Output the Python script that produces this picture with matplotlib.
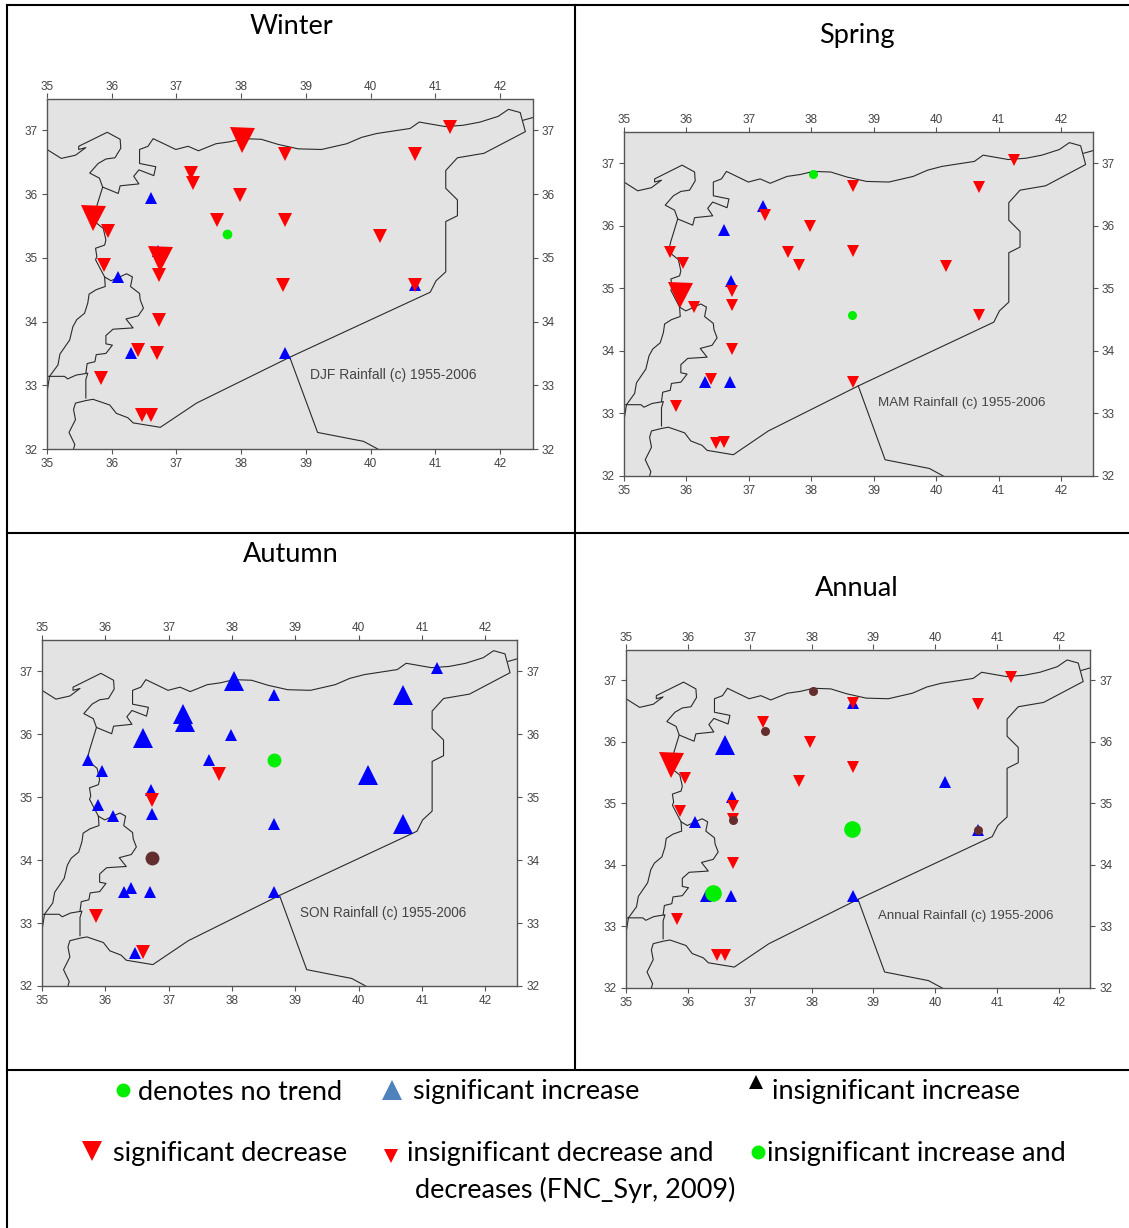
import matplotlib
matplotlib.use('Agg')
import matplotlib.pyplot as plt
from matplotlib.lines import Line2D

W, H = 1129, 1228

# map outlines (lon, lat)
coast = [(35.00, 36.70), (35.22, 36.56), (35.44, 36.61), (35.60, 36.73), (35.49, 36.70), (35.49, 36.75),
         (35.93, 36.97), (36.13, 36.86), (36.14, 36.72), (36.05, 36.57), (35.91, 36.55), (35.79, 36.48),
         (35.66, 36.33), (35.81, 36.25), (35.86, 36.11), (35.75, 35.75), (35.71, 35.59), (35.87, 35.46),
         (35.91, 35.28), (35.89, 35.20), (35.75, 35.15), (35.77, 35.02), (35.75, 34.97), (35.89, 34.70),
         (35.90, 34.55), (35.76, 34.50), (35.65, 34.43), (35.63, 34.29), (35.58, 34.13), (35.46, 34.03),
         (35.40, 33.92), (35.35, 33.71), (35.20, 33.49), (35.17, 33.32), (35.04, 33.14), (35.00, 32.89)]
syria_border = [(35.86, 36.11), (36.10, 36.01), (36.13, 36.13), (36.42, 36.16), (36.34, 36.28), (36.42, 36.38),
                (36.65, 36.29), (36.68, 36.43), (36.43, 36.48), (36.43, 36.70), (36.56, 36.75), (36.64, 36.87),
                (36.99, 36.70), (37.18, 36.75), (37.34, 36.68), (37.61, 36.79), (37.82, 36.82), (38.03, 36.87),
                (38.31, 36.86), (38.57, 36.78), (38.88, 36.71), (39.24, 36.70), (39.63, 36.79), (39.86, 36.89),
                (40.09, 36.95), (40.61, 37.03), (40.75, 37.13), (41.15, 37.06), (41.43, 37.08), (41.69, 37.13),
                (41.97, 37.22), (42.13, 37.33), (42.31, 37.28), (42.39, 36.98), (41.75, 36.64), (41.34, 36.57),
                (41.16, 36.37), (41.16, 36.09), (41.34, 35.91), (41.34, 35.66), (41.16, 35.57), (41.16, 34.78),
                (41.01, 34.64), (40.92, 34.46), (38.75, 33.44), (37.31, 32.72), (36.75, 32.34), (36.33, 32.41),
                (36.25, 32.49), (36.07, 32.56), (35.97, 32.69), (35.71, 32.78), (35.60, 32.76), (35.44, 32.72),
                (35.41, 32.62), (35.44, 32.46), (35.34, 32.26), (35.43, 32.07), (35.41, 32.00)]
turkey_iraq = [(42.36, 37.16), (42.50, 37.20)]
iraq_jordan = [(38.75, 33.44), (39.18, 32.26), (39.89, 32.12), (40.11, 32.00)]
lebanon_south = [(35.02, 33.14), (35.27, 33.14), (35.32, 33.10), (35.45, 33.16), (35.63, 33.19), (35.60, 33.09),
                 (35.60, 32.80)]
lebanon_east = [(35.89, 34.70), (35.99, 34.64), (36.23, 34.75), (36.32, 34.70), (36.29, 34.55), (36.43, 34.44),
                (36.44, 34.34), (36.49, 34.21), (36.41, 34.09), (36.22, 34.04), (36.33, 33.90), (36.02, 33.88),
                (35.91, 33.78), (35.91, 33.65), (36.01, 33.63), (35.91, 33.50), (35.76, 33.48), (35.74, 33.37),
                (35.62, 33.34), (35.60, 33.19)]
outlines = [coast, syria_border, turkey_iraq, iraq_jordan, lebanon_south, lebanon_east]

lon_ticks = [35, 36, 37, 38, 39, 40, 41, 42]
lat_ticks = [32, 33, 34, 35, 36, 37]

# stations per panel
winter_dec_small = [(38.67, 36.63), (37.22, 36.33), (37.25, 36.18), (37.98, 35.99), (37.63, 35.59), (38.67, 35.59),
                    (35.95, 35.42), (35.88, 34.88), (36.73, 34.73), (38.65, 34.58), (36.73, 34.03), (36.40, 33.55),
                    (36.70, 33.50), (35.83, 33.12), (36.47, 32.53), (36.60, 32.54), (40.68, 36.63), (41.23, 37.05),
                    (40.15, 35.35), (40.68, 34.57)]
winter_dec_large = [(38.02, 36.85), (35.71, 35.62), (36.75, 34.98)]
winter_inc_small = [(36.60, 35.94), (36.72, 35.10), (36.10, 34.70), (36.30, 33.50), (38.67, 33.50), (40.69, 34.57)]
winter_inc_large = []
winter_green = [(37.78, 35.37)]

spring_dec_small = [(41.25, 37.05), (38.67, 36.63), (40.69, 36.62), (37.25, 36.18), (37.98, 35.99), (37.63, 35.58),
                    (37.80, 35.37), (38.67, 35.59), (35.73, 35.58), (35.95, 35.40), (40.15, 35.35), (36.73, 34.95),
                    (36.12, 34.70), (36.73, 34.73), (40.69, 34.57), (36.73, 34.03), (36.40, 33.55), (35.83, 33.12),
                    (36.47, 32.53), (36.60, 32.54), (38.66, 33.50)]
spring_dec_large = [(35.90, 34.90)]
spring_inc_small = [(37.23, 36.32), (36.60, 35.94), (36.72, 35.11), (36.30, 33.50), (36.70, 33.50)]
spring_inc_large = []
spring_green = [(38.02, 36.83), (38.65, 34.58)]

autumn_inc_small = [(41.23, 37.05), (38.67, 36.62), (37.98, 35.99), (37.63, 35.59), (35.72, 35.60), (35.95, 35.42),
                    (36.72, 35.12), (35.88, 34.88), (36.12, 34.70), (36.73, 34.73), (38.67, 34.58), (36.30, 33.50),
                    (36.40, 33.55), (36.70, 33.50), (38.67, 33.50), (36.47, 32.53)]
autumn_inc_large = [(38.03, 36.85), (40.70, 36.63), (37.22, 36.33), (37.25, 36.20), (36.60, 35.95), (40.15, 35.35),
                    (40.70, 34.58)]
autumn_dec_small = [(37.80, 35.37), (36.74, 34.95), (35.85, 33.12), (36.60, 32.54)]
autumn_dec_large = []
autumn_green = [(38.67, 35.60)]
autumn_brown = [(36.73, 34.03)]

annual_dec_small = [(41.23, 37.05), (40.69, 36.62), (38.67, 36.63), (37.22, 36.32), (37.98, 35.99), (38.67, 35.59),
                    (37.80, 35.37), (35.95, 35.42), (35.88, 34.88), (36.73, 34.95), (36.73, 34.75), (36.73, 34.03),
                    (35.83, 33.12), (36.47, 32.53), (36.60, 32.54)]
annual_dec_large = [(35.72, 35.62)]
annual_inc_small = [(38.67, 36.63), (40.15, 35.35), (36.72, 35.11), (36.12, 34.70), (36.30, 33.50), (36.70, 33.50),
                    (38.67, 33.50), (40.69, 34.57)]
annual_inc_large = [(36.60, 35.95)]
annual_green = [(38.65, 34.58), (36.40, 33.55)]
annual_brown = [(38.02, 36.82), (37.25, 36.18), (36.73, 34.73), (40.69, 34.57)]

BLUE = '#0000ff'
RED = '#ff0000'
GREEN = '#00ee00'
BROWN = '#642e2e'
TEXT_GRAY = '#444444'
MAP_FONT = 'Liberation Sans'
TITLE_FONT = 'Lato'


def px_axes(fig, left, top, right, bottom):
    return fig.add_axes([left / W, 1 - bottom / H, (right - left) / W, (bottom - top) / H])


def scatter_group(ax, pts, marker, color, size, z):
    if not pts:
        return
    xs, ys = zip(*pts)
    ax.plot(xs, ys, ls='none', marker=marker, color=color, ms=size, mew=0, zorder=z, clip_on=False)


def draw_panel(fig, box, caption, inc_small, inc_large, dec_small, dec_large, green, brown,
               small=9.5, large=18, green_size=7, brown_size=5.5, caption_size=10.0):
    ax = px_axes(fig, *box)
    ax.set_facecolor('#e3e3e3')
    ax.set_xlim(35, 42.5)
    ax.set_ylim(32, 37.5)
    for line in outlines:
        xs, ys = zip(*line)
        ax.plot(xs, ys, color='#2a2a2a', lw=0.8, zorder=2)
    scatter_group(ax, inc_small, '^', BLUE, 8.2, 3)
    scatter_group(ax, inc_large, '^', BLUE, 15, 3)
    scatter_group(ax, dec_small, 'v', RED, small, 4)
    scatter_group(ax, dec_large, 'v', RED, large, 4)
    scatter_group(ax, green, 'o', GREEN, green_size, 5)
    scatter_group(ax, brown, 'o', BROWN, brown_size, 6)
    ax.set_xticks(lon_ticks)
    ax.set_yticks(lat_ticks)
    ax.tick_params(right=True, labelright=True, length=3.6, width=0.8, pad=3,
                   color='#555555', labelcolor=TEXT_GRAY, labelsize=8.5)
    for lab in ax.get_xticklabels() + ax.get_yticklabels():
        lab.set_fontfamily(MAP_FONT)
    # top labels sit closer to the frame than the bottom ones
    top = ax.secondary_xaxis('top')
    top.set_xticks(lon_ticks)
    top.tick_params(length=3.6, width=0.8, pad=0.5, color='#555555', labelcolor=TEXT_GRAY, labelsize=8.5)
    for lab in top.get_xticklabels():
        lab.set_fontfamily(MAP_FONT)
    top.spines['top'].set_visible(False)
    for spine in ax.spines.values():
        spine.set_color('#555555')
        spine.set_linewidth(1.0)
    ax.text(39.07, 33.165, caption, color=TEXT_GRAY, fontsize=caption_size, family=MAP_FONT,
            va='center', ha='left', zorder=7)
    return ax


fig = plt.figure(figsize=(W / 100, H / 100), dpi=100, facecolor='white')

draw_panel(fig, (47, 98.5, 532.5, 449), 'DJF Rainfall (c) 1955-2006',
           winter_inc_small, winter_inc_large, winter_dec_small, winter_dec_large, winter_green, [])
draw_panel(fig, (624, 132, 1092.5, 476), 'MAM Rainfall (c) 1955-2006',
           spring_inc_small, spring_inc_large, spring_dec_small, spring_dec_large, spring_green, [],
           small=9, large=18, green_size=6.5, caption_size=9.6)
draw_panel(fig, (42, 640, 517, 986), 'SON Rainfall (c) 1955-2006',
           autumn_inc_small, autumn_inc_large, autumn_dec_small, autumn_dec_large, autumn_green, autumn_brown,
           green_size=10, brown_size=10, caption_size=9.75)
draw_panel(fig, (626, 649.5, 1090, 988), 'Annual Rainfall (c) 1955-2006',
           annual_inc_small, annual_inc_large, annual_dec_small, annual_dec_large, annual_green, annual_brown,
           small=9, large=18, green_size=12, brown_size=6.5, caption_size=9.5)

# overlay in pixel coordinates for titles, frame and the key
over = fig.add_axes([0, 0, 1, 1], facecolor='none')
over.set_xlim(0, W)
over.set_ylim(H, 0)
over.axis('off')

frame = [((7, 7), (5, H)), ((575, 575), (5, 1069)), ((7, W), (5, 5)), ((7, W), (532.5, 532.5)),
         ((7, W), (1069.5, 1069.5))]
for xs, ys in frame:
    over.add_line(Line2D(xs, ys, color='black', lw=1.5))

titles = ['Winter', 'Spring', 'Autumn', 'Annual']
title_x = [291, 857, 291, 857]
title_y = [27, 36, 555, 589]
for label, x, y in zip(titles, title_x, title_y):
    over.text(x, y, label, family=TITLE_FONT, fontsize=19.5, ha='center', va='center', color='black')

key_labels = ['denotes no trend', 'significant increase', 'insignificant increase', 'significant decrease',
              'insignificant decrease and', 'insignificant increase and', 'decreases (FNC_Syr, 2009)']
key_x = [138, 413, 772, 113, 407, 767, 415]
key_y = [1092, 1092, 1092, 1154, 1154, 1154, 1190]
for label, x, y in zip(key_labels, key_x, key_y):
    over.text(x, y, label, family=TITLE_FONT, fontsize=19.5, ha='left', va='center', color='black')

key_marker_x = [123, 392, 756, 92, 391, 758]
key_marker_y = [1090, 1090, 1082, 1151, 1156, 1152]
key_markers = ['o', '^', '^', 'v', 'v', 'o']
key_colors = [GREEN, '#4f81bd', 'black', RED, RED, GREEN]
key_sizes = [10, 15, 9.5, 15, 9.5, 10]
for x, y, m, c, s in zip(key_marker_x, key_marker_y, key_markers, key_colors, key_sizes):
    over.plot([x], [y], ls='none', marker=m, color=c, ms=s, mew=0)

fig.savefig('out.png', dpi=100)
